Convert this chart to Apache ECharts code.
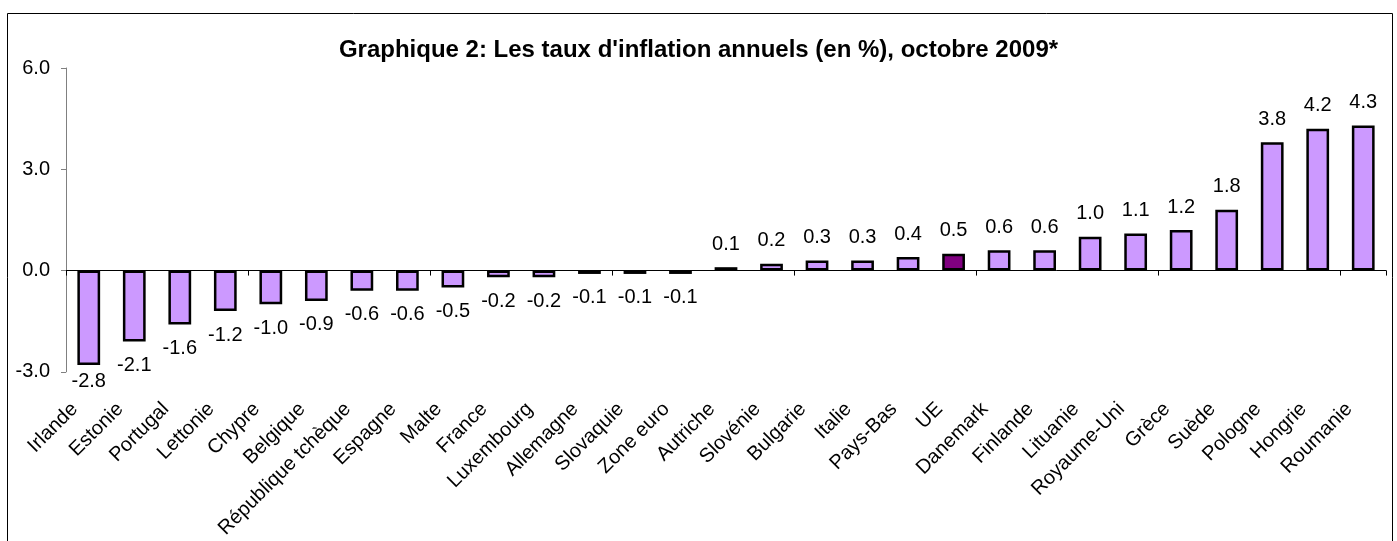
<!DOCTYPE html>
<html>
<head>
<meta charset="utf-8">
<script src="https://cdn.jsdelivr.net/npm/echarts@6/dist/echarts.min.js"></script>
<style>
html,body{margin:0;padding:0;background:#fff;}
#chart{width:1397px;height:541px;}
</style>
</head>
<body>
<div id="chart"></div>
<script>
const categories = ['Irlande','Estonie','Portugal','Lettonie','Chypre','Belgique','République tchèque','Espagne','Malte','France','Luxembourg','Allemagne','Slovaquie','Zone euro','Autriche','Slovénie','Bulgarie','Italie','Pays-Bas','UE','Danemark','Finlande','Lituanie','Royaume-Uni','Grèce','Suède','Pologne','Hongrie','Roumanie'];
const values = [-2.8,-2.1,-1.6,-1.2,-1.0,-0.9,-0.6,-0.6,-0.5,-0.2,-0.2,-0.1,-0.1,-0.1,0.1,0.2,0.3,0.3,0.4,0.5,0.6,0.6,1.0,1.1,1.2,1.8,3.8,4.2,4.3];
const highlighted = ['Zone euro','UE'];
const yTicks = [-3, 0, 3, 6];

const FONT = '"Liberation Sans", Arial, sans-serif';
const chart = echarts.init(document.getElementById('chart'), null, {renderer:'canvas'});

const seriesData = values.map((v, i) => ({
  value: v,
  itemStyle: { color: highlighted.includes(categories[i]) ? '#800080' : '#CC99FF' },
  label: { position: v < 0 ? 'bottom' : 'top', distance: v < 0 ? (v <= -2.5 ? 6 : 14) : 13 }
}));

chart.setOption({
  animation: false,
  backgroundColor: '#fff',
  title: {
    text: "Graphique 2: Les taux d'inflation annuels (en %), octobre 2009*",
    left: 'center', top: 33,
    textStyle: { fontFamily: FONT, fontSize: 24, fontWeight: 'bold', color: '#000' }
  },
  graphic: [{
    type: 'rect', silent: true, z: -1,
    shape: { x: 7.5, y: 13.5, width: 1385, height: 600 },
    style: { fill: null, stroke: '#000', lineWidth: 1 }
  }],
  grid: { left: 66, right: 11, top: 68, bottom: 169, containLabel: false },
  xAxis: [{
    type: 'category', data: categories, position: 'bottom',
    boundaryGap: true,
    axisLine: { show: true, onZero: true, lineStyle: { color: '#000', width: 1 } },
    axisTick: { show: true, alignWithLabel: false, length: 5, lineStyle: { color: '#000' } },
    axisLabel: { show: false },
    splitLine: { show: false }
  }, {
    type: 'category', data: categories, position: 'bottom',
    axisLine: { show: false, onZero: false },
    axisTick: { show: false },
    axisLabel: { show: true, rotate: 45, interval: 0, margin: 20, padding: [0, 20, 0, 0],
      fontFamily: FONT, fontSize: 20, color: '#000' },
    splitLine: { show: false }
  }],
  yAxis: {
    type: 'value', min: -3, max: 6, interval: 3,
    axisLine: { show: true, lineStyle: { color: '#808080', width: 1 } },
    axisTick: { show: true, length: 5, lineStyle: { color: '#808080' } },
    axisLabel: { fontFamily: FONT, fontSize: 20, color: '#000', margin: 16,
      formatter: v => yTicks.includes(v) ? v.toFixed(1) : '' },
    splitLine: { show: false }
  },
  series: [{
    type: 'bar', xAxisIndex: 0, data: seriesData,
    barWidth: '50%',
    itemStyle: { borderColor: '#000', borderWidth: 2.5 },
    label: { show: true, fontFamily: FONT, fontSize: 20, color: '#000',
      formatter: p => p.value.toFixed(1) }
  }]
});
</script>
</body>
</html>
